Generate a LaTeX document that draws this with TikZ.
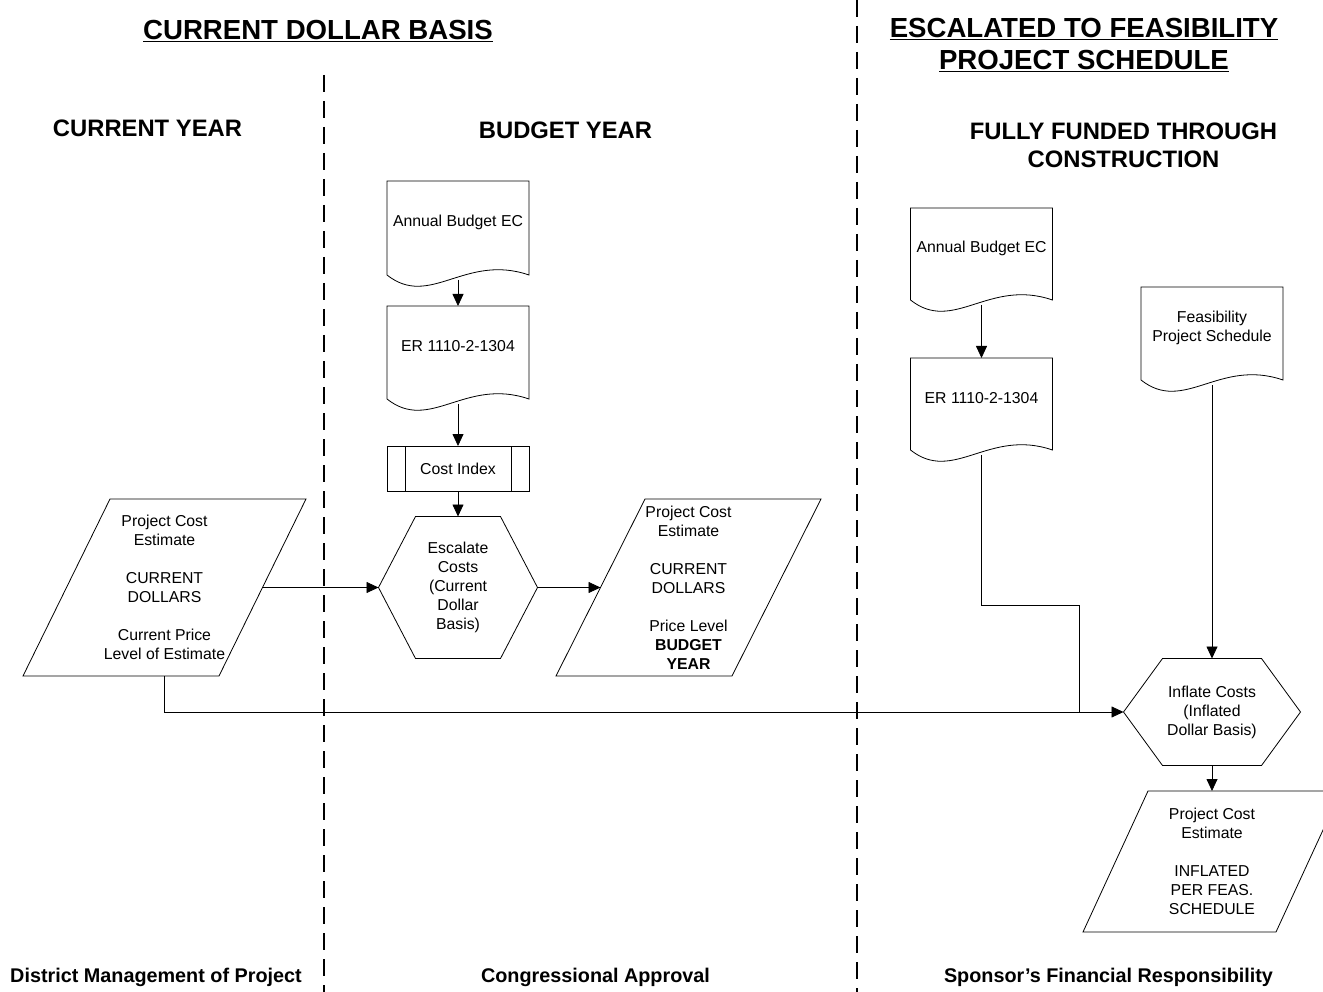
\documentclass[tikz,border=0pt]{standalone}
\usepackage{fontspec}
\setmainfont{Liberation Sans}
\usetikzlibrary{arrows.meta}

\tikzset{
  flow/.style={draw=black, line width=0.8pt},
  arrow/.style={flow, -{Triangle[length=12pt,width=11pt]}},
  divider/.style={draw=black, line width=2pt, dash pattern=on 17pt off 9pt},
  shapebox/.style={inner sep=0pt, outer sep=0pt},
  txt/.style={font=\fontsize{15.8}{19}\selectfont, align=center, inner sep=0pt},
  title/.style={font=\bfseries\fontsize{27.6}{32}\selectfont, anchor=base, inner sep=0pt},
  colhead/.style={font=\bfseries\fontsize{23.8}{28}\selectfont, anchor=base, inner sep=0pt},
  foot/.style={font=\bfseries\fontsize{19.8}{24}\selectfont, anchor=base, inner sep=0pt},
}

% document symbol: straight top and sides, wavy bottom edge
\newcommand\docoutline[1]{%
  \draw[flow] (#1.north west) -- (#1.north east) -- ([yshift=5pt]#1.south east)
    .. controls +(-64,-22) and +(43,34) .. ([yshift=5pt]#1.south west) -- cycle;}
% preparation symbol: flat hexagon with pointed ends
\newcommand\hexoutline[2]{%
  \draw[flow] (#1.west) -- ([xshift=#2]#1.north west) -- ([xshift=-#2]#1.north east)
    -- (#1.east) -- ([xshift=-#2]#1.south east) -- ([xshift=#2]#1.south west) -- cycle;}
% data symbol: parallelogram leaning right
\newcommand\paraoutline[2]{%
  \draw[flow] ([xshift=#2]#1.north west) -- (#1.north east)
    -- ([xshift=-#2]#1.south east) -- (#1.south west) -- cycle;}

\begin{document}
\begin{tikzpicture}[x=1pt,y=-1pt]
\useasboundingbox (0,0) rectangle (1323,992);
\clip (0,0) rectangle (1323,992);

% column dividers
\draw[divider] (324,75) -- (324,992);
\draw[divider] (857,0) -- (857,992);

% headings
\node[title] (hCur) at (318,40) {\underline{CURRENT DOLLAR BASIS}};
\node[title] (hEsc1) at (1084,38) {\underline{ESCALATED TO FEASIBILITY}};
\node[title] (hEsc2) at (1084,70) {\underline{PROJECT SCHEDULE}};
\node[colhead] (hCY) at (147.5,136.5) {CURRENT YEAR};
\node[colhead] (hBY) at (565.5,138.5) {BUDGET YEAR};
\node[colhead] (hFF1) at (1123.5,139.5) {FULLY FUNDED THROUGH};
\node[colhead] (hFF2) at (1123.5,167.5) {CONSTRUCTION};

% footers
\node[foot] (fDist) at (156,982) {District Management of Project};
\node[foot] (fCong) at (595.5,982) {Congressional Approval};
\node[foot] (fSpon) at (1108.5,982) {Sponsor’s Financial Responsibility};

% ---- budget year column ----
\node[shapebox, minimum width=142pt, minimum height=99pt] (abA) at (458,230.5) {};
\docoutline{abA}
\node[txt] (abA-t) at ([yshift=8.5pt]abA.center) {Annual Budget EC};

\node[shapebox, minimum width=142pt, minimum height=98pt] (erA) at (458,355) {};
\docoutline{erA}
\node[txt] (erA-t) at ([yshift=8.5pt]erA.center) {ER 1110-2-1304};

\node[shapebox, txt, flow, minimum width=142pt, minimum height=45pt] (ci) at (458,468.5) {Cost Index};
\draw[flow] ([xshift=18pt]ci.north west) -- ([xshift=18pt]ci.south west);
\draw[flow] ([xshift=-18pt]ci.north east) -- ([xshift=-18pt]ci.south east);

\node[shapebox, txt, minimum width=159pt, minimum height=142pt] (escal) at (458,587.5)
  {Escalate\\Costs\\(Current\\Dollar\\Basis)};
\hexoutline{escal}{37pt}

\node[shapebox, txt, minimum width=283pt, minimum height=177pt] (pceA) at (164.5,587.5)
  {Project Cost\\Estimate\\[19pt]CURRENT\\DOLLARS\\[19pt]Current Price\\Level of Estimate};
\paraoutline{pceA}{87pt}

\node[shapebox, txt, minimum width=265pt, minimum height=177pt] (pceB) at (688.5,587.5)
  {Project Cost\\Estimate\\[19pt]CURRENT\\DOLLARS\\[19pt]Price Level\\\textbf{BUDGET}\\\textbf{YEAR}};
\paraoutline{pceB}{89pt}

% ---- fully funded column ----
\node[shapebox, minimum width=142pt, minimum height=97pt] (abB) at (981.5,256.5) {};
\docoutline{abB}
\node[txt] (abB-t) at ([yshift=8.5pt]abB.center) {Annual Budget EC};

\node[shapebox, minimum width=142pt, minimum height=97pt] (erB) at (981.5,406.5) {};
\docoutline{erB}
\node[txt] (erB-t) at ([yshift=8.5pt]erB.center) {ER 1110-2-1304};

\node[shapebox, minimum width=142pt, minimum height=98pt] (fps) at (1212,336) {};
\docoutline{fps}
\node[txt] (fps-t) at ([yshift=8.5pt]fps.center) {Feasibility\\Project Schedule};

\node[shapebox, txt, minimum width=177pt, minimum height=107pt] (infl) at (1212,712)
  {Inflate Costs\\(Inflated\\Dollar Basis)};
\hexoutline{infl}{39pt}

\node[shapebox, txt, minimum width=258pt, minimum height=141pt] (pceC) at (1212,861.5)
  {Project Cost\\Estimate\\[19pt]INFLATED\\PER FEAS.\\SCHEDULE};
\paraoutline{pceC}{65pt}

\coordinate (merge) at (1079,712);

% ---- connectors ----
\draw[arrow] (abA.south) -- (erA.north);
\draw[arrow] (erA.south) -- (ci.north);
\draw[arrow] (ci.south) -- (escal.north);
\draw[arrow] ([xshift=-43.5pt]pceA.east) -- (escal.west);
\draw[arrow] (escal.east) -- ([xshift=44.5pt]pceB.west);
\draw[arrow] (pceA.south) |- (infl.west);
\draw[arrow] (abB.south) -- (erB.north);
\draw[flow] (erB.south) -- ++(0,150) -| (merge);
\draw[arrow] (fps.south) -- (infl.north);
\draw[arrow] (infl.south) -- (pceC.north);
\end{tikzpicture}
\end{document}
